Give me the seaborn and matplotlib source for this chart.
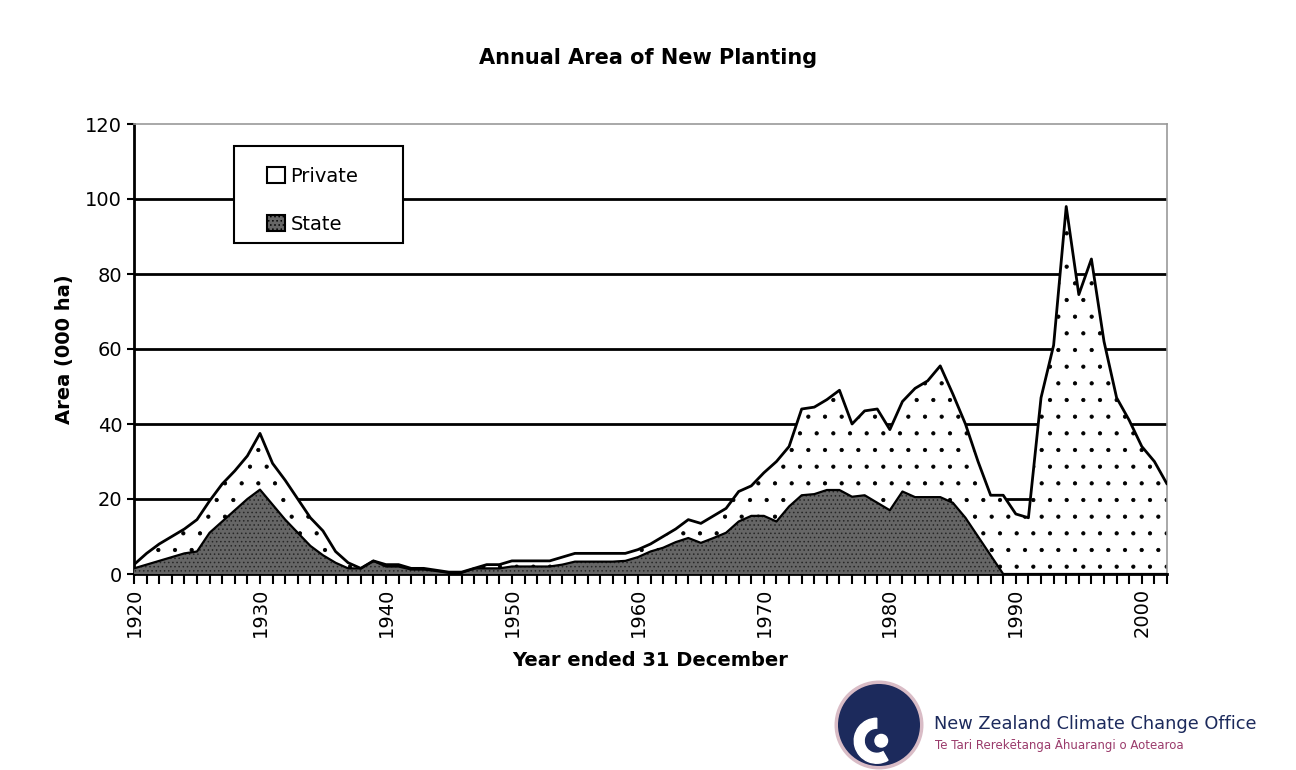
import numpy as np
import matplotlib
matplotlib.use("Agg")
import matplotlib.pyplot as plt
import seaborn as sns
import pandas as pd
from matplotlib.patches import Patch, Circle, Wedge, Rectangle

# =========================
# DATA (000 ha)
# =========================
years = list(range(1920, 2003))

total = [2.5, 5.5, 8, 10, 12, 14.5, 19.5, 24, 27.5, 31.5,
         37.5, 29.5, 25, 20, 15, 11.5, 6, 3, 1.5, 3.5,
         2.5, 2.5, 1.5, 1.5, 1.0, 0.5, 0.5, 1.5, 2.5, 2.5,
         3.5, 3.5, 3.5, 3.5, 4.5, 5.5, 5.5, 5.5, 5.5, 5.5,
         6.5, 8, 10, 12, 14.5, 13.5, 15.5, 17.5, 22, 23.5,
         27, 30, 34, 44, 44.5, 46.5, 49, 40, 43.5, 44,
         38.5, 46, 49.5, 51.5, 55.5, 48, 40, 30, 21, 21,
         16, 15, 47, 61, 98, 74.5, 84, 62, 47, 41,
         34, 30, 24]

state = [1.5, 2.5, 3.5, 4.5, 5.5, 6, 11, 14, 17, 20,
         22.5, 18.5, 14.5, 11, 7.5, 5, 3, 1.5, 1.5, 3.5,
         2, 2, 1.2, 1.2, 0.8, 0.3, 0.3, 1.5, 1.5, 1.5,
         2, 2, 2, 2, 2.5, 3.3, 3.3, 3.3, 3.3, 3.5,
         4.5, 6, 7, 8.5, 9.6, 8.3, 9.6, 11, 14, 15.5,
         15.5, 14, 18, 21, 21.3, 22.4, 22.4, 20.6, 21, 19,
         17, 22, 20.5, 20.5, 20.5, 19, 15, 10, 5, 0,
         0, 0, 0, 0, 0, 0, 0, 0, 0, 0,
         0, 0, 0]

df = pd.DataFrame({"Year": years, "Total": total, "State": state})
df["Private"] = df["Total"] - df["State"]

y_ticks = [0, 20, 40, 60, 80, 100, 120]
x_ticks = list(range(1920, 2001, 10))

# =========================
# FIGURE
# =========================
sns.set_style("white")
plt.rcParams["font.family"] = ["DejaVu Sans"]
plt.rcParams["text.color"] = "black"
plt.rcParams["axes.labelcolor"] = "black"
plt.rcParams["xtick.color"] = "black"
plt.rcParams["ytick.color"] = "black"
plt.rcParams["hatch.linewidth"] = 0.6

fig = plt.figure(figsize=(12.96, 7.70), dpi=100)
ax = fig.add_axes([134 / 1296, 1 - 574 / 770, (1167 - 134) / 1296, (574 - 124) / 770])

# gridlines behind the areas
for v in y_ticks[1:-1]:
    ax.axhline(v, color="black", lw=2, zorder=1)

# private (stacked on top of state): white with sparse small dots
ax.fill_between(df["Year"], df["State"], df["Total"], facecolor="white",
                edgecolor="black", hatch=".", lw=0, zorder=2)
# state: dark dotted grey
ax.fill_between(df["Year"], 0, df["State"], facecolor="#666666",
                edgecolor="#262626", hatch="....", lw=0, zorder=3)

sns.lineplot(data=df, x="Year", y="Total", color="black", lw=2, ax=ax, zorder=4)
sns.lineplot(data=df, x="Year", y="State", color="black", lw=1.6, ax=ax, zorder=4)

ax.set_xlim(1920, 2002)
ax.set_ylim(0, 120)
ax.set_yticks(y_ticks)
ax.set_xticks(x_ticks)
ax.set_xticks(years, minor=True)
ax.tick_params(axis="x", which="both", direction="out", length=7, width=1.5,
               bottom=True, labelrotation=90, labelsize=14, pad=3)
ax.tick_params(axis="y", direction="out", length=5, width=1.5,
               left=True, labelsize=14)

for s in ["left", "bottom"]:
    ax.spines[s].set_color("black")
    ax.spines[s].set_linewidth(2)
for s in ["top", "right"]:
    ax.spines[s].set_color("#999999")
    ax.spines[s].set_linewidth(1.2)

ax.set_xlabel("Year ended 31 December", fontsize=14, fontweight="bold", labelpad=10)
ax.set_ylabel("Area (000 ha)", fontsize=14, fontweight="bold", labelpad=8)
fig.text(0.5, 1 - 58 / 770, "Annual Area of New Planting", ha="center",
         va="center", fontsize=15, fontweight="bold")

# legend box drawn as its own rectangle, entries placed inside
ax.add_patch(Rectangle((0.0968, 0.7356), 0.1636, 0.2154, transform=ax.transAxes,
                       facecolor="white", edgecolor="black", lw=1.5, zorder=5))
handles = [Patch(facecolor="white", edgecolor="black", lw=1.5, label="Private"),
           Patch(facecolor="#666666", edgecolor="black", lw=1.5, hatch="....", label="State")]
leg = ax.legend(handles=handles, loc="upper left", bbox_to_anchor=(0.129, 0.905),
                frameon=False, fontsize=14, handlelength=0.9, handleheight=0.9,
                handletextpad=0.3, labelspacing=1.5, borderpad=0, borderaxespad=0)
leg.set_zorder(6)

# =========================
# LOGO
# =========================
lax = fig.add_axes([834 / 1296, 0.0, 90 / 1296, 90 / 770])
lax.set_xlim(-1, 1)
lax.set_ylim(-1, 1)
lax.set_aspect("equal")
lax.axis("off")
lax.add_patch(Circle((0, 0), 0.95, facecolor="#1c2a5c", edgecolor="#d9bcc6", lw=2.5))
lax.add_patch(Wedge((-0.05, -0.35), 0.5, 90, 300, width=0.22, facecolor="white"))
lax.add_patch(Circle((0.05, -0.35), 0.14, facecolor="white"))

fig.text(934 / 1296, 1 - 724 / 770, "New Zealand Climate Change Office",
         color="#1c2a5c", fontsize=12.8, va="center", ha="left")
fig.text(935 / 1296, 1 - 745 / 770, "Te Tari Rerekētanga Āhuarangi o Aotearoa",
         color="#9a3b6b", fontsize=8.5, va="center", ha="left")

fig.savefig("out.png", dpi=100, facecolor="white")
